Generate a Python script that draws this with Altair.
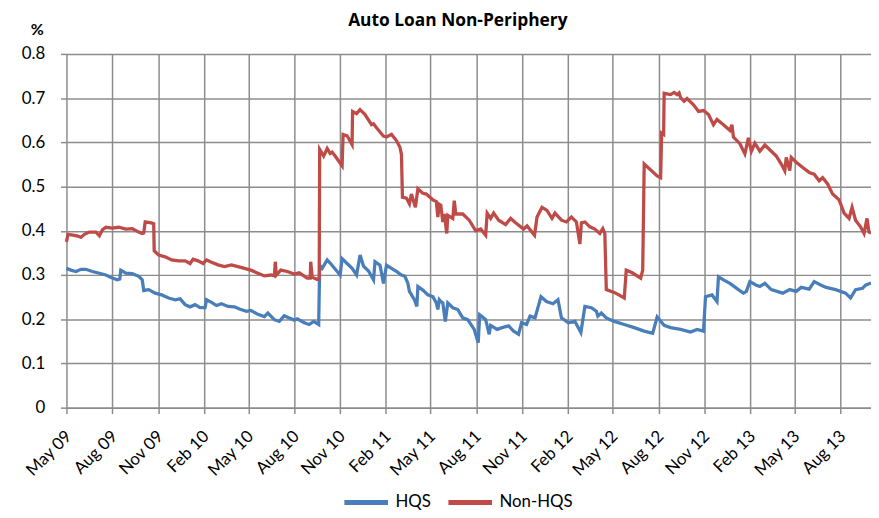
import altair as alt
import pandas as pd

START = "2009-05-01"
TITLE = "Auto Loan Non-Periphery"
SERIES = ["HQS", "Non-HQS"]
COLORS = ["#4A7EBB", "#BE4B48"]
TICK_MONTHS = [(2009, 5), (2009, 8), (2009, 11), (2010, 2), (2010, 5), (2010, 8), (2010, 11),
               (2011, 2), (2011, 5), (2011, 8), (2011, 11), (2012, 2), (2012, 5), (2012, 8),
               (2012, 11), (2013, 2), (2013, 5), (2013, 8)]
Y_TICKS = [0, 0.1, 0.2, 0.3, 0.4, 0.5, 0.6, 0.7, 0.8]

# days since 1 May 2009, values in %
hqs_days = [0, 9, 19, 29, 39, 52, 66, 79, 92, 102, 107, 109, 119, 132, 145, 152, 155, 165, 178, 191,
            205, 218, 228, 238, 248, 258, 268, 278, 281, 291, 301, 311, 324, 337, 347, 361, 370, 384,
            397, 404, 417, 427, 437, 447, 457, 463, 477, 487, 496, 506, 508, 513, 523, 529, 549, 553,
            563, 573, 582, 589, 596, 606, 616, 619, 629, 636, 642, 652, 662, 672, 679, 685, 688, 698,
            703, 705, 715, 725, 735, 742, 745, 748, 751, 755, 760, 765, 775, 785, 795, 805, 818, 826,
            829, 841, 848, 851, 864, 874, 887, 897, 907, 913, 923, 930, 940, 952, 963, 976, 986, 993,
            1007, 1020, 1032, 1040, 1053, 1063, 1066, 1073, 1083, 1099, 1119, 1139, 1159, 1176, 1185,
            1199, 1212, 1232, 1252, 1265, 1278, 1282, 1295, 1305, 1308, 1318, 1331, 1348, 1358, 1364,
            1371, 1384, 1391, 1401, 1414, 1437, 1451, 1464, 1474, 1490, 1500, 1514, 1524, 1543, 1563,
            1573, 1583, 1597, 1603, 1614]
hqs_vals = [0.315, 0.311, 0.308, 0.313, 0.313, 0.308, 0.304, 0.300, 0.293, 0.289, 0.291, 0.311, 0.304,
            0.303, 0.297, 0.289, 0.265, 0.267, 0.259, 0.255, 0.248, 0.244, 0.246, 0.233, 0.228, 0.233,
            0.226, 0.226, 0.244, 0.238, 0.231, 0.235, 0.229, 0.228, 0.223, 0.218, 0.220, 0.211, 0.206,
            0.214, 0.199, 0.195, 0.208, 0.203, 0.198, 0.201, 0.192, 0.188, 0.195, 0.188, 0.322, 0.315,
            0.334, 0.327, 0.300, 0.337, 0.326, 0.315, 0.300, 0.345, 0.320, 0.309, 0.289, 0.330, 0.322,
            0.281, 0.322, 0.315, 0.308, 0.300, 0.297, 0.281, 0.263, 0.244, 0.229, 0.274, 0.266, 0.255,
            0.251, 0.237, 0.222, 0.244, 0.240, 0.237, 0.195, 0.237, 0.226, 0.222, 0.203, 0.199, 0.177,
            0.147, 0.210, 0.199, 0.166, 0.186, 0.177, 0.181, 0.185, 0.173, 0.166, 0.192, 0.188, 0.207,
            0.203, 0.251, 0.240, 0.235, 0.244, 0.203, 0.192, 0.195, 0.170, 0.229, 0.226, 0.218, 0.207,
            0.214, 0.203, 0.195, 0.188, 0.181, 0.173, 0.168, 0.205, 0.186, 0.181, 0.177, 0.171, 0.177,
            0.173, 0.251, 0.255, 0.240, 0.296, 0.289, 0.281, 0.267, 0.259, 0.263, 0.285, 0.277, 0.274,
            0.281, 0.267, 0.259, 0.267, 0.263, 0.272, 0.268, 0.285, 0.277, 0.272, 0.267, 0.259, 0.248,
            0.267, 0.270, 0.277, 0.282]

non_days = [0, 3, 13, 23, 29, 36, 46, 59, 66, 72, 79, 92, 105, 119, 132, 145, 152, 155, 158, 170, 175,
            176, 185, 198, 211, 225, 238, 248, 254, 264, 274, 281, 291, 304, 317, 331, 344, 357, 370,
            384, 397, 410, 417, 419, 421, 430, 443, 457, 467, 483, 489, 490, 493, 503, 507, 508, 516,
            523, 529, 533, 539, 553, 555, 563, 573, 574, 582, 589, 599, 612, 616, 622, 636, 642, 652,
            662, 669, 672, 674, 682, 688, 692, 700, 705, 715, 722, 735, 742, 745, 748, 751, 755, 758,
            763, 765, 775, 778, 781, 795, 808, 821, 831, 841, 844, 851, 857, 867, 881, 891, 901, 917,
            924, 939, 944, 954, 964, 974, 980, 993, 1003, 1013, 1023, 1030, 1033, 1040, 1050, 1060,
            1070, 1076, 1080, 1083, 1100, 1119, 1123, 1135, 1152, 1156, 1159, 1185, 1192, 1194, 1198,
            1199, 1212, 1219, 1225, 1229, 1232, 1239, 1245, 1258, 1268, 1278, 1288, 1298, 1305, 1318,
            1331, 1335, 1338, 1351, 1361, 1368, 1374, 1381, 1391, 1401, 1414, 1424, 1434, 1441, 1444,
            1451, 1454, 1464, 1477, 1490, 1500, 1510, 1517, 1527, 1537, 1550, 1560, 1570, 1576, 1583,
            1593, 1600, 1606, 1610, 1614]
non_vals = [0.375, 0.392, 0.390, 0.388, 0.385, 0.392, 0.397, 0.397, 0.389, 0.402, 0.408, 0.406, 0.408,
            0.404, 0.405, 0.397, 0.394, 0.395, 0.420, 0.418, 0.416, 0.355, 0.345, 0.341, 0.334, 0.332,
            0.332, 0.326, 0.336, 0.332, 0.326, 0.334, 0.329, 0.323, 0.319, 0.323, 0.319, 0.315, 0.311,
            0.304, 0.298, 0.300, 0.298, 0.330, 0.300, 0.311, 0.308, 0.302, 0.305, 0.293, 0.293, 0.330,
            0.295, 0.290, 0.292, 0.584, 0.569, 0.586, 0.575, 0.578, 0.569, 0.547, 0.618, 0.615, 0.595,
            0.670, 0.665, 0.674, 0.663, 0.640, 0.642, 0.633, 0.614, 0.612, 0.618, 0.604, 0.589, 0.573,
            0.476, 0.474, 0.461, 0.483, 0.453, 0.495, 0.485, 0.483, 0.470, 0.466, 0.431, 0.460, 0.458,
            0.420, 0.438, 0.394, 0.435, 0.428, 0.468, 0.438, 0.438, 0.424, 0.400, 0.404, 0.390, 0.440,
            0.428, 0.440, 0.424, 0.414, 0.428, 0.418, 0.404, 0.411, 0.390, 0.431, 0.453, 0.446, 0.428,
            0.440, 0.424, 0.420, 0.431, 0.420, 0.370, 0.418, 0.420, 0.409, 0.404, 0.394, 0.405, 0.394,
            0.267, 0.260, 0.248, 0.311, 0.305, 0.293, 0.311, 0.551, 0.524, 0.520, 0.621, 0.618, 0.711,
            0.708, 0.713, 0.708, 0.712, 0.701, 0.693, 0.699, 0.685, 0.670, 0.672, 0.663, 0.640, 0.652,
            0.640, 0.627, 0.640, 0.612, 0.597, 0.574, 0.610, 0.580, 0.598, 0.580, 0.594, 0.580, 0.569,
            0.551, 0.536, 0.566, 0.536, 0.566, 0.555, 0.543, 0.532, 0.528, 0.513, 0.520, 0.506, 0.483,
            0.470, 0.440, 0.428, 0.453, 0.424, 0.409, 0.394, 0.428, 0.397, 0.395]


def frame(days, vals, name):
    base = pd.Timestamp(START)
    return pd.DataFrame({
        "date": [(base + pd.Timedelta(days=d)).strftime("%Y-%m-%d") for d in days],
        "value": vals,
        "series": name,
        "idx": list(range(len(days))),
    })


df = pd.concat([frame(hqs_days, hqs_vals, SERIES[0]), frame(non_days, non_vals, SERIES[1])],
               ignore_index=True)

GRID = "#8c8c8c"
FONT = "Lato"

x_axis = alt.Axis(
    values=[alt.DateTime(year=y, month=m, date=1, utc=True) for y, m in TICK_MONTHS],
    labelExpr="utcFormat(datum.value, '%b %y')", labelAngle=-45, labelAlign="right",
    labelBaseline="middle", labelPadding=20, labelOffset=2, labelFont=FONT, labelFontSize=17,
    labelColor="#000000", labelOverlap=False, labelBound=False, labelFlush=False,
    grid=True, gridColor=GRID, gridWidth=1.5, domain=True, domainColor=GRID,
    domainWidth=1.5, ticks=True, tickColor=GRID, tickWidth=1.5, tickSize=6, title=None,
)

y_axis = alt.Axis(
    values=Y_TICKS, format="~g", labelFont=FONT, labelFontSize=17, labelColor="#000000",
    labelPadding=16, grid=True, gridColor=GRID, gridWidth=1.5, domain=False, ticks=True,
    tickColor=GRID, tickWidth=1.5, tickSize=6, title="%", titleAngle=0, titleX=-30,
    titleY=-25, titleAlign="center", titleBaseline="middle", titleFont=FONT,
    titleFontSize=16, titleFontWeight="bold", titleColor="#000000",
)

chart = alt.Chart(df).mark_line(strokeWidth=3.3, interpolate="linear").encode(
    x=alt.X("date:T", axis=x_axis,
            scale=alt.Scale(type="utc", nice=False,
                            domain=[alt.DateTime(year=2009, month=5, date=1, utc=True),
                                    alt.DateTime(year=2013, month=10, date=1, utc=True)])),
    y=alt.Y("value:Q", axis=y_axis, scale=alt.Scale(domain=[0, 0.8], nice=False)),
    color=alt.Color("series:N", scale=alt.Scale(domain=SERIES, range=COLORS),
                    legend=alt.Legend(orient="none", legendX=278, legendY=428,
                                      direction="horizontal", title=None, symbolType="stroke",
                                      symbolSize=1936, symbolStrokeWidth=5, labelFont=FONT,
                                      labelFontSize=17, labelColor="#000000", columnPadding=7,
                                      labelOffset=5, padding=0)),
    order=alt.Order("idx:Q"),
).properties(
    width=812, height=357,
    title=alt.TitleParams(TITLE, font="Open Sans", fontSize=17.5, fontWeight="bold", anchor="middle",
                          frame="group", dx=-11, dy=12, color="#000000"),
    autosize=alt.AutoSizeParams(type="none"),
    padding={"left": 59, "top": 44, "right": 0, "bottom": 108},
).configure_view(strokeWidth=0)

chart.save("out.html", embed_options={"renderer": "svg", "actions": False})
